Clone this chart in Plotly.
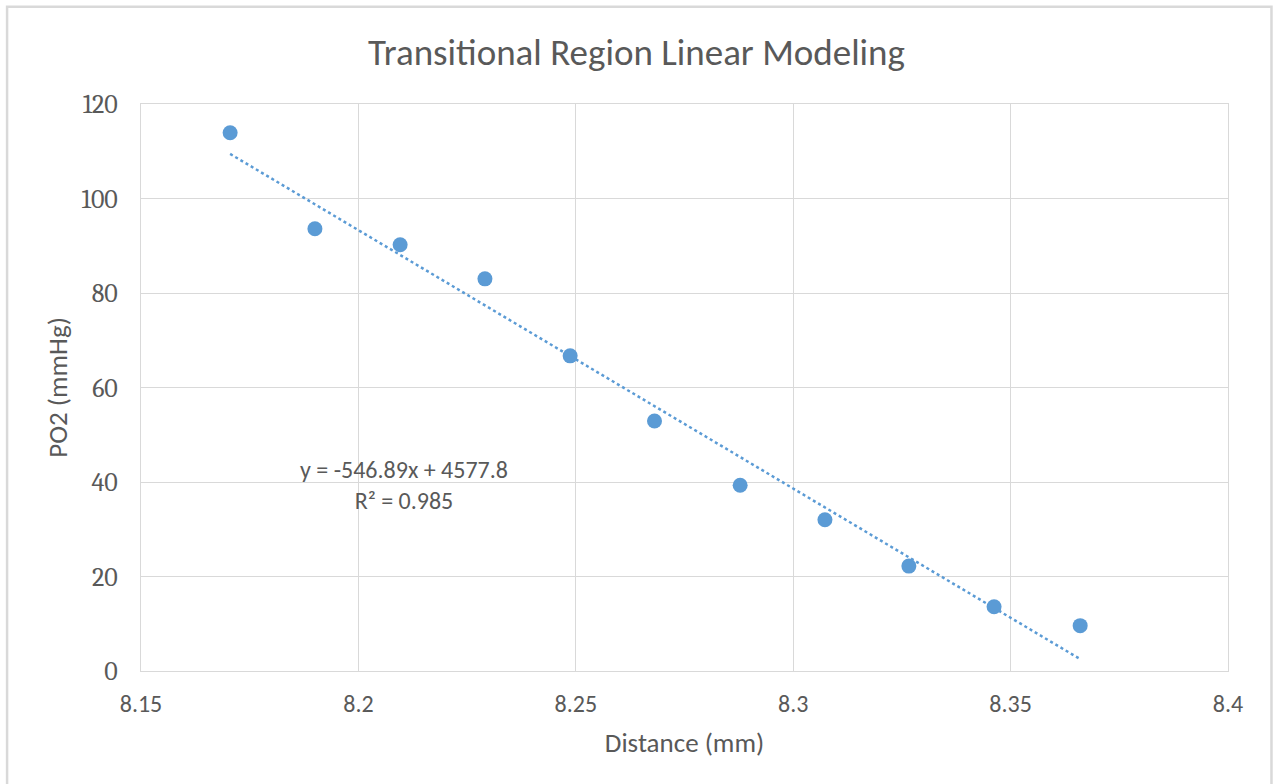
import plotly.graph_objects as go

# Measured PO2 across the transitional region
distance_mm = [8.1705, 8.1900, 8.2096, 8.2291, 8.2487, 8.2681, 8.2878, 8.3073, 8.3266, 8.3462, 8.3660]
po2_mmhg = [113.9, 93.6, 90.2, 83.0, 66.7, 52.9, 39.3, 32.0, 22.2, 13.6, 9.6]

# Linear fit reported for the data
slope = -546.89
intercept = 4577.8
r_squared = 0.985

x_ticks = [8.15, 8.2, 8.25, 8.3, 8.35, 8.4]
x_tick_text = ["8.15", "8.2", "8.25", "8.3", "8.35", "8.4"]
y_ticks = [0, 20, 40, 60, 80, 100, 120]

blue = "#5B9BD5"
grid = "#D9D9D9"
text_gray = "#595959"
sans = "Carlito, Calibri, 'Open Sans', sans-serif"
serif = "Cambria, 'Liberation Serif', serif"

fit_x = [distance_mm[0], distance_mm[-1]]
fit_y = [slope * x + intercept for x in fit_x]

fig = go.Figure()
fig.add_trace(go.Scatter(
    x=fit_x, y=fit_y, mode="lines",
    line=dict(color=blue, width=2.5, dash="dot"),
    hoverinfo="skip", showlegend=False,
))
fig.add_trace(go.Scatter(
    x=distance_mm, y=po2_mmhg, mode="markers",
    marker=dict(color=blue, size=15, line=dict(width=0)),
    showlegend=False,
))

fig.add_annotation(
    x=8.2105, y=39.3, xref="x", yref="y",
    text=f"y = {slope}x + {intercept}<br>R² = {r_squared}",
    showarrow=False, align="center",
    font=dict(family=sans, size=24, color=text_gray),
)

# Outer chart frame (top, left and right edges)
fig.add_shape(
    type="path", xref="paper", yref="paper",
    path="M -0.1232,-0.2 L -0.1232,1.1717 L 1.0400,1.1717 L 1.0400,-0.2",
    line=dict(color="#D9D9D9", width=2.5),
)

fig.update_layout(
    width=1273, height=784,
    margin=dict(l=141, r=45, t=104, b=113),
    paper_bgcolor="white", plot_bgcolor="white",
    title=dict(
        text="Transitional Region Linear Modeling",
        x=0.5, xanchor="center", y=0.934, yanchor="middle",
        font=dict(family=sans, size=37, color=text_gray, weight=300),
    ),
    xaxis=dict(
        range=[8.15, 8.4], tickvals=x_ticks, ticktext=x_tick_text,
        showgrid=True, gridcolor=grid, gridwidth=1,
        showline=True, linecolor=grid, linewidth=1, mirror=True,
        zeroline=False, ticks="", ticklen=0, ticklabelstandoff=11,
        tickfont=dict(family=sans, size=24, color=text_gray),
        title=dict(text="Distance (mm)", standoff=16,
                   font=dict(family=sans, size=27, color=text_gray)),
    ),
    yaxis=dict(
        range=[0, 120], tickvals=y_ticks,
        showgrid=True, gridcolor=grid, gridwidth=1,
        showline=True, linecolor=grid, linewidth=1, mirror=True,
        zeroline=False, ticks="", ticklen=0, ticklabelstandoff=17,
        tickfont=dict(family=serif, size=26, color=text_gray),
        title=dict(text="PO2 (mmHg)", standoff=6,
                   font=dict(family=sans, size=27, color=text_gray)),
    ),
)

fig.write_html("out.html")
